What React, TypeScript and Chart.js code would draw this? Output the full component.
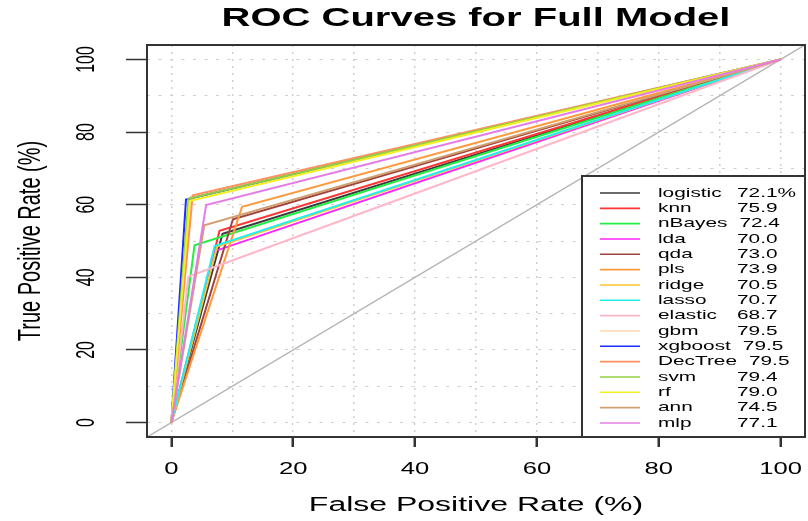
import React, { useEffect, useRef } from "react";
import { Chart, registerables } from "chart.js";

Chart.register(...registerables);

// ---- data ----
const models = ["logistic", "knn", "nBayes", "lda", "qda", "pls", "ridge", "lasso", "elastic", "gbm", "xgboost", "DecTree", "svm", "rf", "ann", "mlp"];
const aucLabels = ["72.1%", "75.9", "72.4", "70.0", "73.0", "73.9", "70.5", "70.7", "68.7", "79.5", "79.5", "79.5", "79.4", "79.0", "74.5", "77.1"];
const kneeFPR = [8.4, 7.9, 3.8, 7.1, 10.1, 11.6, 7.5, 7.1, 2.8, 3.2, 2.4, 3.5, 2.8, 3.0, 5.4, 5.7];
const kneeTPR = [52.0, 52.8, 48.8, 47.2, 56.0, 59.4, 48.5, 48.6, 40.2, 62.2, 61.4, 62.6, 61.6, 61.0, 54.3, 59.9];
const colors = ["#3A3A3A", "#FF3333", "#22EE44", "#FF22FF", "#A0433F", "#FF9A3C", "#FFC130", "#22EEEE", "#FFB6C8", "#FFD9B0", "#1E2CFF", "#FF9060", "#90D040", "#F2F020", "#D2A070", "#E57CE5"];
const axisTicks = [0, 20, 40, 60, 80, 100];
const gridValues = [0, 10, 20, 30, 40, 50, 60, 70, 80, 90, 100];
const title = "ROC Curves for Full Model";
const xTitle = "False Positive Rate (%)";
const yTitle = "True Positive Rate (%)";

const FONT = '"Liberation Sans", Arial, sans-serif';
const SX = 1.6;

function sText(ctx: CanvasRenderingContext2D, text: string, x: number, y: number, font: string, align: CanvasTextAlign, rotate = false) {
  ctx.save();
  ctx.translate(x, y);
  ctx.scale(SX, 1);
  if (rotate) ctx.rotate(-Math.PI / 2);
  ctx.font = font;
  ctx.textAlign = align;
  ctx.textBaseline = "middle";
  ctx.fillStyle = "#000";
  ctx.fillText(text, 0, 0);
  ctx.restore();
}

const decorPlugin = {
  id: "rdecor",
  afterDatasetsDraw(chart: any) {
    const ctx: CanvasRenderingContext2D = chart.ctx;
    const a = chart.chartArea;
    // legend (bottom right)
    const lx = 582, ly = 176;
    ctx.save();
    ctx.fillStyle = "#fff";
    ctx.fillRect(lx, ly, a.right - lx, a.bottom - ly);
    ctx.strokeStyle = "#333";
    ctx.lineWidth = 2;
    ctx.strokeRect(lx, ly, a.right - lx, a.bottom - ly);
    const lf = `13px ${FONT}`;
    models.forEach((m, i) => {
      const y = 193 + i * 15.33;
      ctx.strokeStyle = colors[i];
      ctx.lineWidth = 1.6;
      ctx.beginPath();
      ctx.moveTo(600, y);
      ctx.lineTo(640, y);
      ctx.stroke();
      sText(ctx, m, 658, y, lf, "left");
      ctx.font = lf;
      const nameEnd = 658 + ctx.measureText(m).width * SX;
      sText(ctx, aucLabels[i], Math.max(737, nameEnd + 12), y, lf, "left");
    });
    ctx.restore();
    // plot box
    ctx.save();
    ctx.strokeStyle = "#333";
    ctx.lineWidth = 2;
    ctx.strokeRect(a.left, a.top, a.right - a.left, a.bottom - a.top);
    ctx.restore();
  },
  afterDraw(chart: any) {
    const ctx: CanvasRenderingContext2D = chart.ctx;
    const a = chart.chartArea;
    const xs = chart.scales.x, ys = chart.scales.y;
    const cx = (a.left + a.right) / 2;
    const cy = (a.top + a.bottom) / 2;
    sText(ctx, title, cx, 19, `bold 25px ${FONT}`, "center");
    sText(ctx, xTitle, cx, 505, `20px ${FONT}`, "center");
    sText(ctx, yTitle, 31, cy, `20px ${FONT}`, "center", true);
    axisTicks.forEach((v) => {
      sText(ctx, String(v), xs.getPixelForValue(v), 470, `16px ${FONT}`, "center");
      sText(ctx, String(v), 87, ys.getPixelForValue(v), `16px ${FONT}`, "center", true);
    });
  },
};

export default function App() {
  const ref = useRef<HTMLCanvasElement>(null);
  useEffect(() => {
    if (!ref.current) return;
    const n = models.length;
    const datasets: any[] = models.map((m, i) => ({
      label: m,
      data: [
        { x: 0, y: 0 },
        { x: kneeFPR[i], y: kneeTPR[i] },
        { x: 100, y: 100 },
      ],
      showLine: true,
      borderColor: colors[i],
      backgroundColor: colors[i],
      borderWidth: 2,
      pointRadius: 0,
      tension: 0,
      order: n - i,
    }));
    datasets.push({
      label: "chance",
      data: [
        { x: -4, y: -4 },
        { x: 104, y: 104 },
      ],
      showLine: true,
      borderColor: "#B4B4B4",
      borderWidth: 1.5,
      pointRadius: 0,
      order: n + 1,
    });
    const tickColor = (c: any) => (axisTicks.includes(c.tick && c.tick.value) ? "#333" : "rgba(0,0,0,0)");
    const chart = new Chart(ref.current, {
      type: "scatter",
      data: { datasets },
      options: {
        animation: false,
        responsive: false,
        devicePixelRatio: 1,
        layout: { padding: { top: 45, right: 3, left: 0, bottom: 0 } },
        plugins: { legend: { display: false }, tooltip: { enabled: false }, title: { display: false } },
        scales: {
          x: {
            type: "linear",
            min: -4,
            max: 104,
            afterBuildTicks: (s: any) => {
              s.ticks = gridValues.map((v) => ({ value: v }));
            },
            afterFit: (s: any) => {
              s.height = 84;
            },
            ticks: { display: false },
            border: { display: false, dash: [2, 5] },
            grid: {
              color: "#CFCFCF",
              lineWidth: 1.5,
              drawTicks: true,
              tickLength: 10,
              tickColor,
              tickWidth: 2.5,
              tickBorderDash: [],
            },
          },
          y: {
            type: "linear",
            min: -4,
            max: 104,
            afterBuildTicks: (s: any) => {
              s.ticks = gridValues.map((v) => ({ value: v }));
            },
            afterFit: (s: any) => {
              s.width = 147;
            },
            ticks: { display: false },
            border: { display: false, dash: [3, 8.5] },
            grid: {
              color: "#CFCFCF",
              lineWidth: 1,
              drawTicks: true,
              tickLength: 21,
              tickColor,
              tickWidth: 1.5,
              tickBorderDash: [],
            },
          },
        },
      } as any,
      plugins: [decorPlugin],
    });
    return () => chart.destroy();
  }, []);
  return (
    <div style={{ position: "fixed", left: 0, top: 0, width: 808, height: 521, background: "#fff" }}>
      <canvas ref={ref} width={808} height={521} style={{ width: 808, height: 521, display: "block" }} />
    </div>
  );
}
